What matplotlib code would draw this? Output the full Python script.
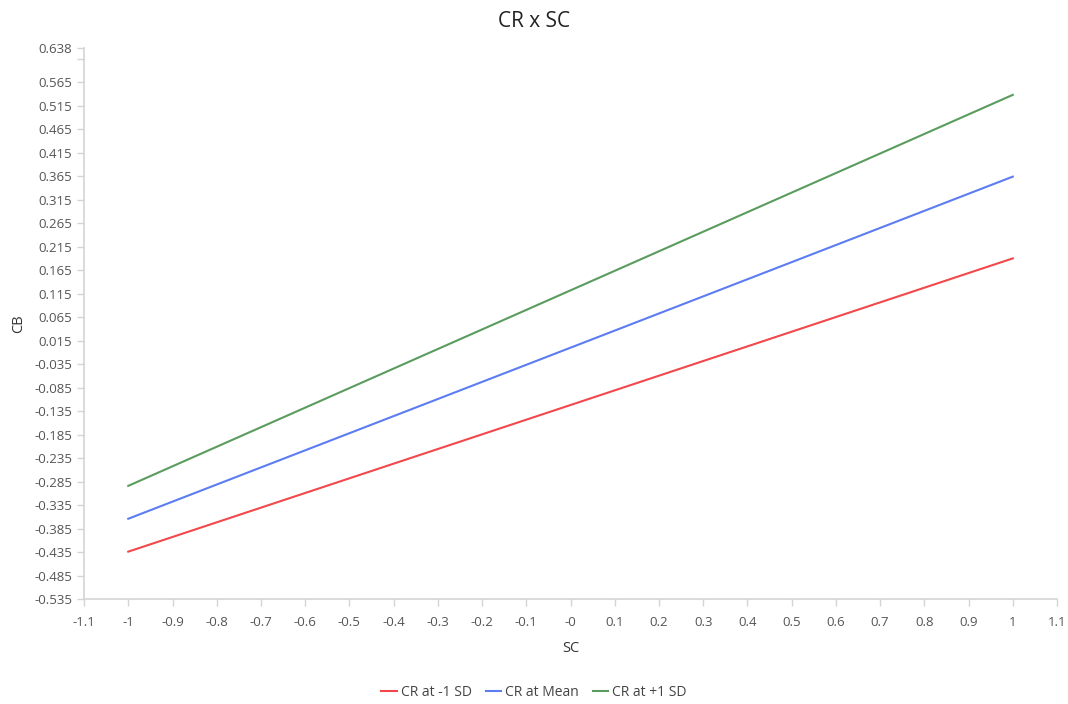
import matplotlib
matplotlib.use("Agg")
from matplotlib import pyplot as plt
import numpy as np

plt.rcParams['font.family'] = ['Open Sans', 'DejaVu Sans']

# values
sc = [-1, 1]
cr_low = [-0.434, 0.190]
cr_mean = [-0.364, 0.364]
cr_high = [-0.294, 0.538]

x_ticks = [-1.1, -1, -0.9, -0.8, -0.7, -0.6, -0.5, -0.4, -0.3, -0.2, -0.1, 0,
           0.1, 0.2, 0.3, 0.4, 0.5, 0.6, 0.7, 0.8, 0.9, 1, 1.1]
x_labels = ['-1.1', '-1', '-0.9', '-0.8', '-0.7', '-0.6', '-0.5', '-0.4', '-0.3',
            '-0.2', '-0.1', '-0', '0.1', '0.2', '0.3', '0.4', '0.5', '0.6', '0.7',
            '0.8', '0.9', '1', '1.1']
y_ticks = [0.638, 0.615, 0.565, 0.515, 0.465, 0.415, 0.365, 0.315, 0.265, 0.215,
           0.165, 0.115, 0.065, 0.015, -0.035, -0.085, -0.135, -0.185, -0.235,
           -0.285, -0.335, -0.385, -0.435, -0.485, -0.535]
y_labels = ['0.638', ''] + ['%.3f' % v for v in y_ticks[2:]]

fig = plt.figure(figsize=(10.68, 7.04), dpi=100)
ax = fig.add_axes([0.0787, 0.149, 0.911, 0.783])

ax.plot(sc, cr_low, color='#F2484B', lw=1.5, label='CR at -1 SD')
ax.plot(sc, cr_mean, color='#5C7CF2', lw=1.5, label='CR at Mean')
ax.plot(sc, cr_high, color='#5A9C5E', lw=1.5, label='CR at +1 SD')

ax.set_xlim(-1.1, 1.1)
ax.set_ylim(-0.535, 0.638)
ax.set_xticks(x_ticks)
ax.set_xticklabels(x_labels)
ax.set_yticks(y_ticks)
ax.set_yticklabels(y_labels)

for s in ['top', 'right']:
    ax.spines[s].set_visible(False)
for s in ['left', 'bottom']:
    ax.spines[s].set_color('#d4d4d4')
    ax.spines[s].set_linewidth(1.2)
ax.tick_params(colors='#d4d4d4', labelcolor='#555555', labelsize=9.5, length=5, width=1)
ax.tick_params(axis='x', pad=7)

ax.set_xlabel('SC', fontsize=10.5, color='#333333', labelpad=9)
ax.set_ylabel('CB', fontsize=10.5, color='#333333', labelpad=6)
fig.suptitle('CR x SC', fontsize=15, color='#222222', y=0.985)

fig.legend(loc='lower center', ncol=3, frameon=False, fontsize=10,
           handlelength=1.1, handletextpad=0.3, columnspacing=1.0,
           bbox_to_anchor=(0.5, -0.012), labelcolor='#444444')

fig.savefig('out.png', dpi=100)
